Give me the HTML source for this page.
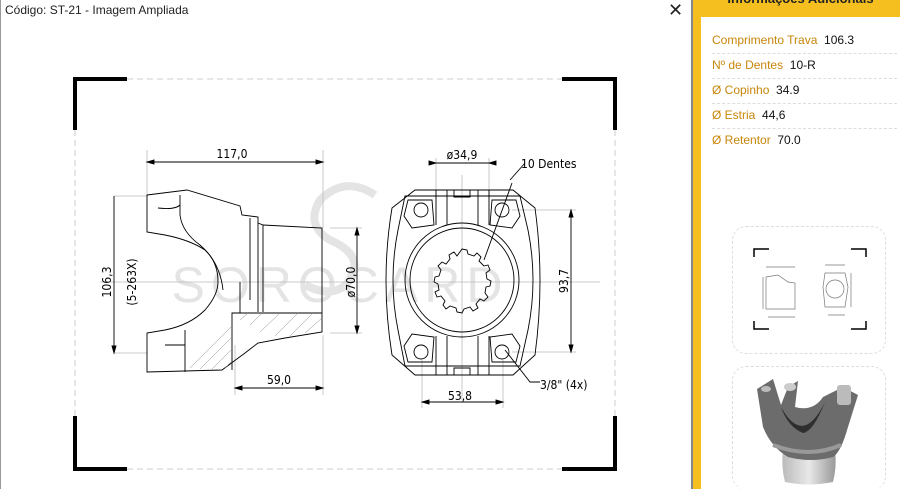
<!DOCTYPE html>
<html><head><meta charset="utf-8"><style>
body{margin:0;width:900px;height:489px;overflow:hidden;background:#fff;font-family:"Liberation Sans",sans-serif;position:relative}
.title{position:absolute;left:5px;top:3px;font-size:12px;color:#222}
.x{position:absolute;left:668px;top:0px;font-size:18px;color:#222;font-weight:300}
.row{position:absolute;left:712px;width:185px;font-size:12px;height:25px;line-height:25px;border-bottom:1px dashed #ddd;color:#c8860a}
.row b{font-weight:normal;color:#111}
.box{position:absolute;left:732px;width:152px;border:1px dashed #ddd;border-radius:14px;overflow:hidden}
</style></head><body>
<div style="position:absolute;left:0;top:0;width:1px;height:489px;background:#999"></div>
<div class="title">Código: ST-21 - Imagem Ampliada</div>
<div class="x">✕</div>
<div style="position:absolute;left:691px;top:0;width:2px;height:489px;background:#888"></div>
<div style="position:absolute;left:693px;top:0;width:8px;height:489px;background:#f5bf1f"></div>
<div style="position:absolute;left:693px;top:0;width:207px;height:17px;background:#f5bf1f"></div>
<div style="position:absolute;left:701px;top:-9px;width:199px;text-align:center;font-size:13px;font-weight:bold;color:#222">Informações Adicionais</div>
<div class="row" style="top:28px">Comprimento Trava&nbsp; <b>106.3</b></div>
<div class="row" style="top:53px">Nº de Dentes&nbsp; <b>10-R</b></div>
<div class="row" style="top:78px">Ø Copinho&nbsp; <b>34.9</b></div>
<div class="row" style="top:103px">Ø Estria&nbsp; <b>44,6</b></div>
<div class="row" style="top:128px;border:none">Ø Retentor&nbsp; <b>70.0</b></div>
<div class="box" style="top:226px;height:126px">
<svg width="152" height="126"><g fill="none" stroke="#000" stroke-width="1.5"><path d="M21,30V22H36M118,22H133V30M21,94V102H36M118,102H133V94"/></g>
<g fill="none" stroke="#777" stroke-width="0.7"><path d="M33,50L45,48L55,55L62,56V82H33ZM92,46H112L115,60L112,80H92L90,60Z"/><circle cx="102" cy="62" r="9"/><path d="M33,40H62M30,50V82M35,90H62M92,38H112M95,88H112M118,46V80"/></g></svg></div>
<div class="box" style="top:366px;height:123px;border-bottom:none">
<svg width="152" height="123">
<defs><linearGradient id="g" x1="0" x2="1"><stop offset="0" stop-color="#bbb"/><stop offset=".5" stop-color="#e8e8e8"/><stop offset="1" stop-color="#999"/></linearGradient></defs>
<path d="M50,82 Q48,100 52,115 Q75,120 100,115 Q104,100 102,82Z" fill="url(#g)"/>
<path d="M24,22 L40,12 L48,38 L55,20 L65,14 L62,40 Q80,45 90,30 L110,20 L125,28 L115,60 Q108,85 100,90 Q78,96 55,90 Q38,80 30,60Z" fill="#6c6c6c"/>
<path d="M48,40 Q70,80 92,35 Q80,65 70,66 Q55,60 48,40Z" fill="#2e2e2e"/>
<path d="M40,78 Q76,92 108,78" stroke="#999" stroke-width="4" fill="none"/>
<ellipse cx="33" cy="22" rx="5" ry="3" fill="#bbb"/><ellipse cx="57" cy="20" rx="6" ry="4" fill="#ccc"/><rect x="104" y="18" width="14" height="20" rx="3" fill="#bbb"/>
</svg></div>

<svg style="position:absolute;left:0;top:0" width="690" height="489">
<text x="340" y="302" font-size="50" fill="#e4e4e4" text-anchor="middle" font-family="Liberation Sans" letter-spacing="6">SOROCARD</text>
<path d="M375,195 Q345,175 320,200 Q305,225 330,240 Q365,255 350,280 Q335,300 305,285" stroke="#e4e4e4" stroke-width="8" fill="none"/>
<g stroke="#ccc" stroke-width="1" stroke-dasharray="6,4" fill="none">
<path d="M127,79H562M127,469H562M75,130V416M615,130V416"/>
</g>
<g stroke="#000" stroke-width="4" fill="none">
<path d="M75,130V79H127M562,79H615V130M75,416V469H127M562,469H615V416"/>
</g>
<g stroke="#bbb" stroke-width="0.8" fill="none">
<path d="M100,282H600M462,175V400M147,150V198M323,150V228M114,196H147M235,345V395M323,335V395M330,228H362M330,333H362M436,158V225M489,158V225M422,360V408M503,360V408M512,210H576M512,352H576M114,353H147"/>
</g>
<g stroke="#000" stroke-width="0.9" fill="none">
<path d="M147,162H323M235,388H323M357,228V333M114,196V353M571,210V352M436,163H489M422,402H503"/>
<path d="M147,162l7,-2v4zM323,162l-7,-2v4zM235,388l7,-2v4zM323,388l-7,-2v4zM357,228l-2,7h4zM357,333l-2,-7h4zM114,353l-2,-7h4zM571,210l-2,7h4zM571,352l-2,-7h4zM436,163l-7,-2v4zM489,163l7,-2v4zM422,402l7,-2v4zM503,402l-7,-2v4z" fill="#000"/>
<path d="M147,195L187,190L240,206L242,215L258,217L258,223L263,225L322,228V332L285,338L258,343L245,353L222,370L147,372V333L165,330Q190,325 205,310Q218,295 218,282Q218,262 205,250Q190,240 165,235L147,232Z"/>
<path d="M258,223V312M263,225V312M250,218V300M240,282V313L232,313V370M232,313H322M185,330V372M165,345H185M158,208Q175,210 180,205M180,195V215Q182,232 200,245Q220,262 223,290"/>
</g>
<g stroke="#888" stroke-width="0.5">
<path d="M240,320L248,313M250,325L262,313M260,332L280,313M275,336L298,313M290,336L313,313M305,333L322,318M190,368L232,326M200,369L232,337M212,369L232,349M225,368L232,361"/>
</g>
<g stroke="#000" stroke-width="0.9" fill="none">
<path d="M415,190H513L535,208Q545,280 535,355L513,375H415L392,355Q380,280 392,208Z"/>
<path d="M405,196H520L528,230Q538,280 528,330L520,366H405L398,330Q388,280 398,230Z"/>
<path d="M408,200L432,200L434,225L412,228L404,216ZM516,200L492,200L490,225L512,228L520,216ZM408,362L432,362L434,337L412,334L404,346ZM516,362L492,362L490,337L512,334L520,346Z"/>
<circle cx="421" cy="210" r="7"/><circle cx="502" cy="210" r="7"/><circle cx="421" cy="352" r="7"/><circle cx="502" cy="352" r="7"/>
<circle cx="462" cy="280" r="57"/><circle cx="462" cy="280" r="52"/>
<path d="M436,190V225M489,190V225M447,190V225M478,190V225M436,336V375M489,336V375M447,336V375M478,336V375M454,190V197H470V190M454,375V368H470V375"/>
<path d="M462,249L467,250L468,254L474,256L477,253L481,257L479,261L484,266L488,265L490,270L486,273L487,279L491,281L490,286L486,287L485,293L488,297L484,301L480,299L476,304L478,308L473,311L470,307L464,309L462,313L457,312L456,308L450,306L446,309L443,305L445,301L441,296L437,297L435,292L439,290L438,284L434,282L435,277L439,276L441,270L438,266L442,262L446,264L450,259L449,255L454,252L457,256Z"/>
<path d="M510,180L525,163M484,260L512,183M505,350L530,382H540"/>
</g>
<g font-family="DejaVu Sans Condensed, Liberation Sans, sans-serif" font-size="12" fill="#000">
<text x="232" y="158" text-anchor="middle">117,0</text>
<text x="279" y="384" text-anchor="middle">59,0</text>
<text x="462" y="159" text-anchor="middle">ø34,9</text>
<text x="460" y="400" text-anchor="middle">53,8</text>
<text x="521" y="168">10 Dentes</text>
<text x="540" y="389">3/8" (4x)</text>
<text transform="translate(111,282) rotate(-90)" text-anchor="middle">106,3</text>
<text transform="translate(136,282) rotate(-90)" text-anchor="middle">(5-263X)</text>
<text transform="translate(355,282) rotate(-90)" text-anchor="middle">ø70,0</text>
<text transform="translate(568,281) rotate(-90)" text-anchor="middle">93,7</text>
</g>
</svg>
</body></html>
